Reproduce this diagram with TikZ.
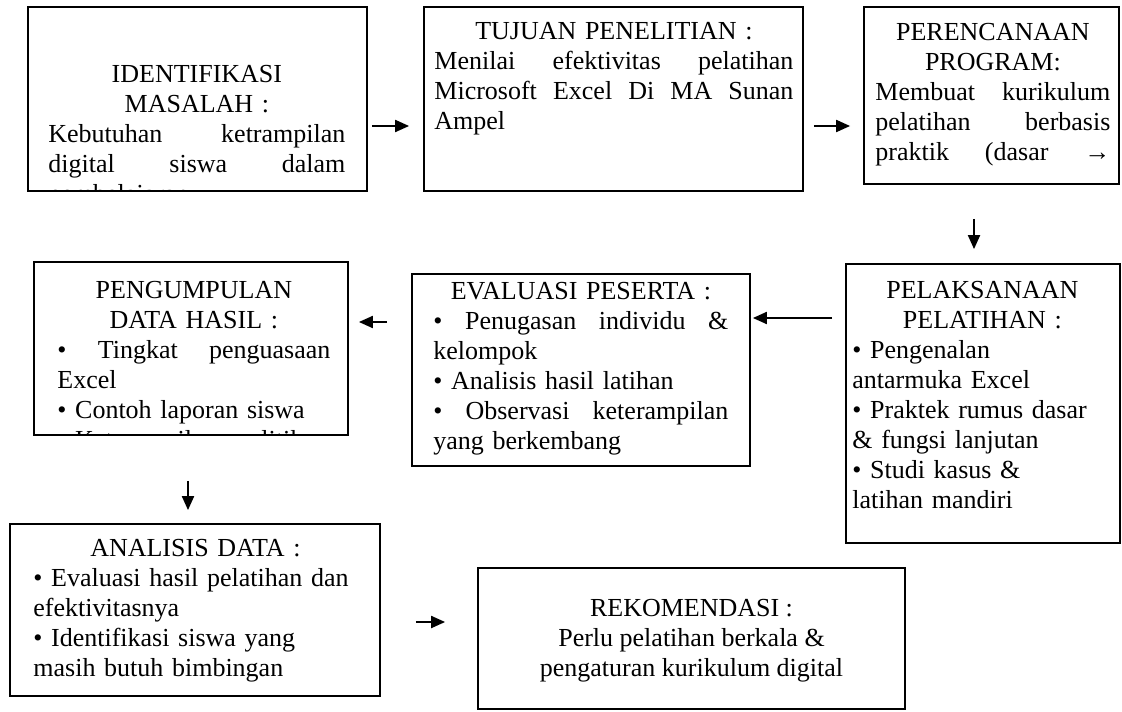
\documentclass[tikz,border=0pt]{standalone}
\usepackage{fontspec}
\setmainfont{Liberation Serif}
\usetikzlibrary{fit,arrows.meta}

\newcommand{\ctr}[1]{\makebox[\hsize][c]{#1}}
\newcommand{\jst}[1]{{\spaceskip=0pt\xspaceskip=0pt\makebox[\hsize][s]{#1}}}

\begin{document}
\begin{tikzpicture}[x=0.5pt, y=-0.5pt,
    kotak/.style={draw, line width=0.9pt, inner sep=0pt},
    teks/.style={inner sep=0pt, align=left, anchor=north west,
      font=\fontsize{13pt}{15pt}\selectfont},
    panah/.style={-{Triangle[length=7pt,width=6pt]}, line width=1pt}]

    \useasboundingbox (0,0) rectangle (1122,711);

    % Define nodes
    \node[kotak, fit={(28,7) (367,191)}]      (masalah) {};
    \node[kotak, fit={(424,7) (803,191)}]     (tujuan) {};
    \node[kotak, fit={(864,7) (1119,184)}]    (rencana) {};
    \node[kotak, fit={(846,264) (1120,543)}]  (laksana) {};
    \node[kotak, fit={(412,274) (750,466)}]   (evaluasi) {};
    \node[kotak, fit={(34,262) (348,435)}]    (kumpul) {};
    \node[kotak, fit={(10,524) (380,696)}]    (analisis) {};
    \node[kotak, fit={(478,568) (905,709)}]   (rekomendasi) {};

    % Texts
    \begin{scope}
      \clip (masalah.south west) rectangle (masalah.north east);
      \node[teks, text width=148.5pt] (masalah-txt) at (48,61)
        {\strut\ctr{IDENTIFIKASI}\\ \ctr{MASALAH :}\\
         \jst{Kebutuhan ketrampilan}\\ \jst{digital siswa dalam}\\
         pembelajaran};
    \end{scope}
    \node[teks, text width=179.5pt] (tujuan-txt) at (434,18)
      {\strut\ctr{TUJUAN PENELITIAN :}\\
       \jst{Menilai efektivitas pelatihan}\\
       \jst{Microsoft Excel Di MA Sunan}\\ Ampel};
    \node[teks, text width=117.5pt] (rencana-txt) at (875,19)
      {\strut\ctr{PERENCANAAN}\\ \ctr{PROGRAM:}\\
       \jst{Membuat kurikulum}\\ \jst{pelatihan berbasis}\\
       \jst{praktik (dasar →}};
    \node[teks, text width=130pt] (laksana-txt) at (852,277)
      {\strut\ctr{PELAKSANAAN}\\ \ctr{PELATIHAN :}\\
       • Pengenalan\\ antarmuka Excel\\
       • Praktek rumus dasar\\ \& fungsi lanjutan\\
       • Studi kasus \&\\ latihan mandiri};
    \node[teks, text width=147.5pt] (evaluasi-txt) at (433,278)
      {\strut\ctr{EVALUASI PESERTA :}\\
       \jst{• Penugasan individu \&}\\ kelompok\\
       • Analisis hasil latihan\\
       \jst{• Observasi keterampilan}\\ yang berkembang};
    \begin{scope}
      \clip (kumpul.south west) rectangle (kumpul.north east);
      \node[teks, text width=136.5pt] (kumpul-txt) at (57,277)
        {\strut\ctr{PENGUMPULAN}\\ \ctr{DATA HASIL :}\\
         \jst{• Tingkat penguasaan}\\ Excel\\
         • Contoh laporan siswa\\ • Keterampilan analitik};
    \end{scope}
    \node[teks, text width=162pt] (analisis-txt) at (33,535)
      {\strut\ctr{ANALISIS DATA :}\\
       • Evaluasi hasil pelatihan dan\\ efektivitasnya\\
       • Identifikasi siswa yang\\ masih butuh bimbingan};
    \node[teks, align=center, anchor=north] (rekomendasi-txt) at (691.5,595)
      {\strut REKOMENDASI :\\ Perlu pelatihan berkala \&\\
       pengaturan kurikulum digital};

    % Connect the nodes
    \draw[panah] ([shift={(4,27)}]masalah.east) -- ([shift={(-14,27)}]tujuan.west);
    \draw[panah] ([shift={(10,27)}]tujuan.east) -- ([shift={(-13,30.5)}]rencana.west);
    \draw[panah] ([shift={(-17.5,34)}]rencana.south) -- ([shift={(-9,-14)}]laksana.north);
    \draw[panah] ([shift={(-13,-85.5)}]laksana.west) -- ([shift={(2,-52)}]evaluasi.east);
    \draw[panah] ([shift={(-24,-48)}]evaluasi.west) -- ([shift={(10,-26.5)}]kumpul.east);
    \draw[panah] ([shift={(-3,45)}]kumpul.south) -- ([shift={(-7,-13)}]analisis.north);
    \draw[panah] ([shift={(35,12)}]analisis.east) -- ([shift={(-32,-16.5)}]rekomendasi.west);

\end{tikzpicture}
\end{document}
